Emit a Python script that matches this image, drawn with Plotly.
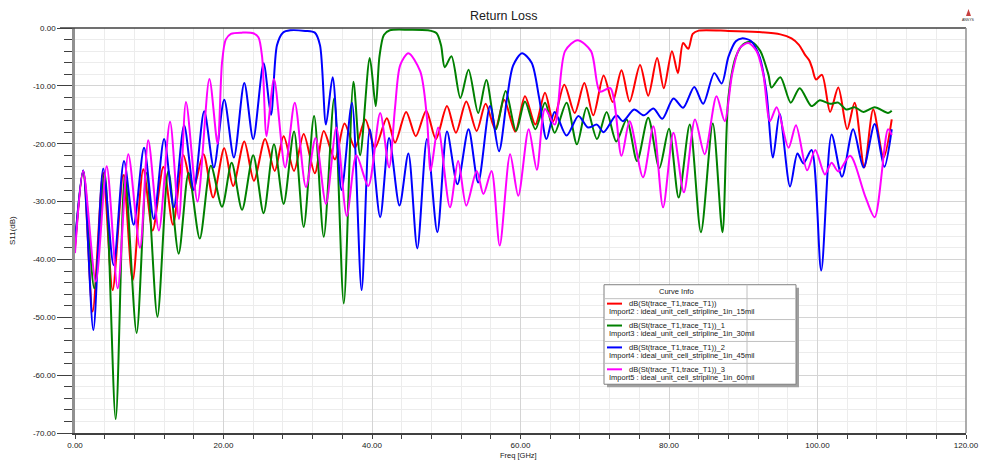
import plotly.graph_objects as go

# ---- S11 sweeps (frequency in GHz, return loss in dB) ----
freq_15mil = [0, 1.1, 2.38, 3.8, 5.07, 6.5, 7.77, 9.2, 10.46, 11.9, 13.2, 14.6, 15.85, 17.3, 18.6,
              20.1, 21.3, 22.8, 24.1, 25.6, 26.9, 28.1, 29.5, 30.8, 32.3, 33.5, 35.0, 36.3, 37.7,
              39.1, 40.4, 42.0, 43.1, 44.6, 45.9, 47.3, 48.6, 50.1, 51.3, 52.7, 54.1, 55.3, 56.6,
              57.8, 59.3, 60.6, 62.0, 63.3, 64.4, 65.9, 67.3, 68.6, 69.8, 71.2, 72.4, 73.6, 74.7,
              76.1, 77.2, 78.4, 79.3, 80.4, 81.2, 81.9, 82.6, 83.2, 84.0, 88.0, 92.0, 95.0, 96.5,
              97.5, 98.3, 98.9, 99.3, 99.8, 100.6, 101.7, 102.8, 104.0, 105.0, 106.3, 107.5, 108.9, 110.0]
s11_15mil = [-38, -24.7, -49, -25, -45.3, -25.4, -43.6, -24.4, -35, -24, -34, -22, -28.1, -21.8, -29.3,
             -20.8, -27.3, -19.6, -26.4, -19.2, -24.7, -18.7, -24.7, -18.3, -25.1, -17.8, -22.7, -16.5, -20.7,
             -15.8, -20.7, -15.6, -19.8, -14.5, -18.7, -14.3, -19.2, -13.5, -18.1, -12.7, -17.8, -13.1, -17.5,
             -12.4, -17.9, -11.8, -16.7, -11.2, -16.1, -9.8, -14.7, -9.5, -15.1, -8.2, -12.8, -7.3, -12.7,
             -6.4, -11.7, -5.2, -10.4, -4.0, -7.8, -2.6, -3.6, -1.0, -0.45, -0.5, -0.7, -1.1, -1.8,
             -2.9, -4.6, -5.6, -7.0, -8.9, -8.1, -14.5, -10.3, -17.5, -12.9, -24.1, -14.1, -22.4, -15.8]

freq_30mil = [0, 1.1, 2.6, 4.0, 5.48, 6.73, 8.3, 9.65, 11.1, 12.57, 13.96, 15.3, 16.8, 18.3, 19.8,
              21.1, 22.5, 24.0, 25.4, 26.8, 28.1, 29.5, 30.8, 32.2, 33.5, 34.9, 36.2, 37.5, 38.4,
              39.7, 40.5, 41.0, 41.6, 42.4, 45.0, 47.5, 48.7, 49.3, 49.8, 50.7, 51.9, 53.0, 54.3,
              55.4, 56.7, 58.0, 59.4, 60.6, 62.0, 63.3, 64.6, 66.2, 67.6, 68.9, 70.3, 71.6, 72.9,
              74.3, 75.7, 77.2, 78.7, 80.0, 81.3, 82.8, 84.3, 85.9, 87.2, 88.0, 89.0, 90.0, 91.1,
              92.3, 93.4, 93.8, 95.0, 96.4, 97.6, 99.2, 100.3, 101.7, 102.8, 103.9, 105.0, 106.2,
              107.7, 109.5, 110.0]
s11_30mil = [-37.5, -24.7, -45, -25, -67.6, -25.4, -52.7, -25, -49.9, -24.7, -39, -25, -36.4, -23.8, -30.9,
             -23.3, -31.4, -22, -32, -20.1, -30.4, -17.9, -34.4, -15.2, -36.1, -12.2, -47.6, -9.3, -22,
             -5.2, -13.5, -5.0, -1.2, -0.4, -0.3, -0.4, -0.9, -3.0, -6.8, -4.9, -12.1, -7.2, -14.7,
             -9.0, -17.5, -10.9, -17.8, -12.7, -17.5, -12.9, -18.1, -12.9, -20.1, -13.8, -19.2, -14.5, -19.6,
             -15.8, -23, -15.5, -24.2, -17.4, -29.3, -16.7, -35.3, -16.5, -35.3, -12, -5.0, -2.8, -2.4,
             -4.0, -8.1, -10.3, -8.5, -12.9, -10.4, -13.5, -12.5, -13.1, -12.9, -14.1, -13.7, -14.5,
             -13.7, -14.7, -14.3]

freq_45mil = [0, 1.1, 2.47, 3.8, 5.2, 6.6, 7.9, 9.3, 10.6, 12.0, 13.3, 14.7, 16.0, 17.4, 18.7,
              20.1, 21.4, 22.8, 24.0, 25.4, 26.4, 27.2, 28.0, 29.0, 31.0, 32.3, 33.0, 33.8, 34.7,
              35.9, 37.3, 38.6, 39.7, 41.1, 42.3, 43.7, 44.9, 46.1, 47.4, 48.8, 50.1, 51.5, 53.0,
              54.3, 55.9, 57.1, 58.2, 59.0, 60.2, 61.5, 62.5, 63.5, 64.6, 66.2, 67.8, 69.1, 70.3,
              71.2, 72.9, 73.8, 75.3, 76.6, 77.9, 79.1, 80.6, 81.9, 83.4, 84.6, 86.1, 87.1, 88.0,
              89.0, 89.8, 91.0, 92.2, 93.1, 94.0, 94.9, 96.3, 97.3, 98.1, 99.2, 100.5, 101.9, 103.3,
              104.8, 106.2, 107.7, 109.0, 110.0]
s11_45mil = [-37, -24.6, -52.2, -24.3, -41, -23, -34, -20.7, -33, -19.2, -31, -16.8, -28, -14.4, -24.1,
             -12.4, -22.4, -9.5, -19.2, -6.1, -15, -3.0, -0.8, -0.4, -0.5, -0.8, -3.0, -16.7, -8.5,
             -28, -12.9, -45.3, -17.5, -32.7, -19, -30.7, -21.7, -38.1, -19.2, -35.3, -17.9, -27, -17.5,
             -26.7, -13.5, -21.3, -12, -6.5, -4.35, -6, -12, -19.2, -14.5, -18.6, -15.2, -17.2, -16.7,
             -18, -15.1, -16.1, -14.1, -15.1, -13.9, -15.7, -12.2, -13.8, -10.2, -13.1, -7.8, -9.6, -5.0,
             -2.3, -1.8, -2.2, -5.0, -10.9, -22.4, -14.8, -27.4, -21.7, -23.4, -21.1, -41.9, -18.4, -25.7,
             -17.5, -24.1, -16.6, -24, -17.5]

freq_60mil = [0, 1.1, 2.8, 4.27, 5.75, 7.18, 8.75, 9.87, 11.3, 12.8, 14.0, 14.95, 16.5, 18.1, 19.2,
              19.8, 20.3, 21.0, 22.5, 24.0, 24.7, 25.2, 25.8, 26.8, 28.3, 29.6, 31.1, 32.4, 33.8,
              35.2, 36.6, 37.9, 39.5, 41.1, 42.3, 43.1, 43.8, 44.9, 46.5, 47.4, 47.9, 48.9, 50.5,
              51.6, 52.7, 54.1, 55.0, 56.1, 57.2, 58.6, 59.7, 61.1, 62.2, 63.3, 64.6, 66.0, 67.7,
              69.5, 70.7, 72.1, 73.6, 74.7, 76.5, 77.9, 79.2, 80.6, 82.0, 83.5, 84.8, 86.4, 87.5,
              88.5, 89.5, 90.7, 91.8, 92.7, 93.6, 94.5, 96.1, 97.1, 98.6, 99.7, 101.0, 101.9, 102.8,
              104.4, 106.4, 107.7, 109.5, 110.0]
s11_60mil = [-38.9, -24.7, -43.8, -23.9, -45, -21.8, -38, -19.4, -35, -16.2, -33, -12.8, -30, -8.8, -20,
             -6, -2, -1, -0.8, -0.9, -1.6, -5, -18.7, -8.8, -24.1, -12.9, -27.5, -19, -30.4,
             -17.2, -32.5, -22, -27.3, -14.7, -24.1, -13.8, -6.4, -4.35, -7.5, -15.5, -24.7, -17.2, -31,
             -23, -30.7, -24.7, -28.7, -24.7, -37.6, -21.8, -29, -17.5, -24.5, -14, -16.7, -4, -2.1,
             -4, -11, -10.4, -22.1, -16.1, -25.8, -17, -31, -18.1, -28.4, -15.8, -21.8, -11.8, -16.1,
             -8, -3.5, -2.6, -4, -8, -16.1, -13.7, -20.7, -16.8, -24.6, -21.1, -25.3, -23.3, -24.8,
             -22.1, -29, -32.7, -17.5, -18.5]

series_names = ["dB(St(trace_T1,trace_T1))", "dB(St(trace_T1,trace_T1))_1",
                "dB(St(trace_T1,trace_T1))_2", "dB(St(trace_T1,trace_T1))_3"]
series_sources = ["Import2 : ideal_unit_cell_stripline_1in_15mil",
                  "Import3 : ideal_unit_cell_stripline_1in_30mil",
                  "Import4 : ideal_unit_cell_stripline_1in_45mil",
                  "Import5 : ideal_unit_cell_stripline_1in_60mil"]
series_colors = ["#ff0000", "#008000", "#0000ff", "#ff00ff"]

x_ticks = [0, 20, 40, 60, 80, 100, 120]
x_tick_text = ["0.00", "20.00", "40.00", "60.00", "80.00", "100.00", "120.00"]
y_ticks = [0, -10, -20, -30, -40, -50, -60, -70]
y_tick_text = ["0.00", "-10.00", "-20.00", "-30.00", "-40.00", "-50.00", "-60.00", "-70.00"]

W, H = 992, 462
L, R, T, B = 75, 966, 28, 435
FONT = "Liberation Sans, Arial, sans-serif"


def px(x):
    return (x - L) / (R - L)


def py(y):
    return (B - y) / (B - T)


def label(x, y, text, size=7.5, xanchor="center", angle=0):
    return dict(x=px(x), y=py(y), xref="paper", yref="paper", text=text, showarrow=False,
                xanchor=xanchor, yanchor="middle", textangle=angle,
                font=dict(size=size, color="#202020", family=FONT))


fig = go.Figure()
for f, v, c, n in zip([freq_15mil, freq_30mil, freq_45mil, freq_60mil],
                      [s11_15mil, s11_30mil, s11_45mil, s11_60mil],
                      series_colors, series_names):
    fig.add_trace(go.Scatter(x=f, y=v, mode="lines", name=n,
                             line=dict(color=c, width=2, shape="spline", smoothing=0.8),
                             showlegend=False))

shapes = []
annotations = []

# plot frame: dark top edge, grey right edge
shapes.append(dict(type="line", xref="paper", yref="paper", x0=px(60), x1=1, y0=1, y1=1,
                   line=dict(color="#404040", width=1.5)))
shapes.append(dict(type="line", xref="paper", yref="paper", x0=1, x1=1, y0=0, y1=1,
                   line=dict(color="#909090", width=1.5)))

# "Curve Info" box
bx0, bx1, by0, by1 = 604, 796, 286, 386
shapes.append(dict(type="rect", xref="paper", yref="paper", x0=px(bx0 + 3), x1=px(bx1 + 3),
                   y0=py(by1 + 3), y1=py(by0 + 3), fillcolor="#a0a0a0", line=dict(width=0)))
shapes.append(dict(type="rect", xref="paper", yref="paper", x0=px(bx0), x1=px(bx1),
                   y0=py(by1), y1=py(by0), fillcolor="white", line=dict(color="#808080", width=1)))
shapes.append(dict(type="line", xref="paper", yref="paper", x0=px(747), x1=px(747),
                   y0=py(by1), y1=py(by0), line=dict(color="#c0c0c0", width=1)))
for ry in [300, 321, 343, 365]:
    shapes.append(dict(type="line", xref="paper", yref="paper", x0=px(bx0), x1=px(bx1),
                       y0=py(ry), y1=py(ry), line=dict(color="#c0c0c0", width=1)))
annotations.append(label(676, 293, "Curve Info"))
row_y = [305, 327, 349, 371]
for i in range(4):
    ry = row_y[i]
    shapes.append(dict(type="line", xref="paper", yref="paper", x0=px(607), x1=px(622),
                       y0=py(ry), y1=py(ry), line=dict(color=series_colors[i], width=2)))
    annotations.append(label(627, ry, series_names[i], xanchor="left"))
    annotations.append(label(607, ry + 8, series_sources[i], xanchor="left"))

# title, axis titles
annotations.append(label(503, 16, "Return Loss", size=12.5))
annotations.append(label(518, 457.5, "Freq [GHz]", size=7.5))
annotations.append(label(13, 232, "S11(dB)", size=8, angle=-90))

# small maker logo at top right
shapes.append(dict(type="path", xref="paper", yref="paper",
                   path="M {} {} L {} {} L {} {} Z".format(px(966), py(16), px(968.5), py(9), px(971), py(16)),
                   fillcolor="#c84040", line=dict(width=0)))
annotations.append(label(968.5, 19.5, "ANSYS", size=3.5))

fig.update_layout(
    width=W, height=H,
    margin=dict(l=L, r=W - R, t=T, b=H - B),
    paper_bgcolor="white", plot_bgcolor="white",
    font=dict(family=FONT, size=8, color="#202020"),
    shapes=shapes, annotations=annotations, showlegend=False,
    xaxis=dict(range=[0, 120], tickvals=x_ticks, ticktext=x_tick_text,
               ticks="outside", ticklen=4, tickcolor="#404040", tickwidth=1,
               showline=True, linecolor="#404040", linewidth=1.5,
               showgrid=True, gridcolor="#d4d4d4", gridwidth=1, zeroline=False,
               tickfont=dict(size=8, color="#202020"),
               minor=dict(dtick=4, tick0=0, ticks="outside", ticklen=4, tickcolor="#404040",
                          showgrid=True, gridcolor="#ececec")),
    yaxis=dict(range=[-70, 0], tickvals=y_ticks, ticktext=y_tick_text,
               ticks="outside", ticklen=15, tickcolor="#404040", tickwidth=1,
               showline=True, linecolor="#909090", linewidth=2.5,
               showgrid=True, gridcolor="#d4d4d4", gridwidth=1, zeroline=False,
               tickfont=dict(size=8, color="#202020"),
               minor=dict(dtick=2, tick0=0, ticks="outside", ticklen=8, tickcolor="#404040",
                          showgrid=True, gridcolor="#ececec")),
)

fig.write_html("out.html")
